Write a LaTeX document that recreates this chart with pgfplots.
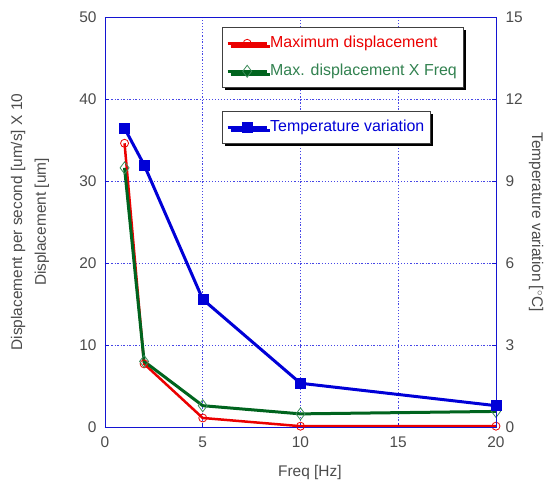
\documentclass[border=0pt]{standalone}
\usepackage{pgfplots}
\pgfplotsset{compat=1.18}
\usepackage{fontspec}
\setmainfont{Liberation Sans}
\usetikzlibrary{shadows}
\definecolor{mred}{RGB}{235,0,0}
\definecolor{mgreen}{RGB}{0,100,30}
\definecolor{mgreenmark}{RGB}{60,140,90}
\definecolor{mgreentext}{RGB}{50,130,80}
\definecolor{mblue}{RGB}{0,0,215}
\definecolor{axblue}{RGB}{20,20,210}
\definecolor{gridblue}{RGB}{70,70,230}
\definecolor{txtgray}{RGB}{75,75,75}

\pgfplotstableread{
x y
1 34.6
2 7.7
5 1.1
10 0.1
20 0.1
}\maxdisp
\pgfplotstableread{
x y
1 31.6
2 8.0
5 2.6
10 1.6
20 1.9
}\dispfreq
\pgfplotstableread{
x y
1 10.93
2 9.59
5 4.67
10 1.6
20 0.78
}\tempvar

\pgfplotsset{
  common/.style={
    scale only axis, width=391bp, height=410bp,
    xmin=0, xmax=20,
    axis line style={axblue, line width=0.8bp},
    tick style={axblue, line width=0.6bp},
    major tick length=4bp,
    tick align=inside,
    ticklabel style={txtgray, font=\fontsize{15.5}{18}\selectfont},
    label style={txtgray, font=\fontsize{15.5}{18}\selectfont},
    /pgf/number format/assume math mode=true,
    legend cell align=left,
    legend image code/.code={\draw[mark repeat=2,mark phase=2,##1] plot coordinates {(0bp,0bp) (19.5bp,0bp) (39bp,0bp)};},
  },
  mylegend/.style={
    fill=white, draw=black!75, line width=0.6bp,
    drop shadow={shadow xshift=3bp, shadow yshift=-3bp, fill=black, opacity=1},
    inner xsep=4bp, inner ysep=7bp,
    row sep=10bp,
    nodes={inner sep=2bp, text height=11bp, text depth=3bp, font=\fontsize{16}{18}\selectfont},
  },
}

\begin{document}
\begin{tikzpicture}
\begin{axis}[common, name=ax,
  ymin=0, ymax=50,
  xtick={0,5,10,15,20},
  ytick={0,10,20,30,40,50},
  ytick pos=left,
  xtick pos=bottom,
  yticklabel style={xshift=-5bp},
  xticklabel style={yshift=-6bp},
  grid=major,
  major grid style={gridblue, line width=0.6bp, dash pattern=on 1.5bp off 2bp on 0.6bp off 2bp},
  xlabel={Freq [Hz]},
  xlabel style={at={(axis description cs:0.524,-0.1098)}, anchor=center},
  ylabel={Displacement per second [um/s] X 10\\Displacement [um]},
  ylabel style={align=center, font=\fontsize{15.5}{24}\selectfont, at={(axis description cs:-0.1918,0.5)}, anchor=center},
  legend style={mylegend, at={(0.299,0.9756)}, anchor=north west},
]
\addplot[mred, line width=2.5bp, mark=o, mark size=4bp, mark options={line width=0.8bp, fill=none}] table[x=x,y=y] {\maxdisp};
\addlegendentry{\textcolor{mred}{Maximum displacement}}
\addplot[mgreen, line width=3bp, mark=diamond, mark size=6bp, mark options={mgreenmark, line width=0.8bp, fill=none}] table[x=x,y=y] {\dispfreq};
\addlegendentry{\textcolor{mgreentext}{Max. displacement X Freq}}
\end{axis}
\begin{axis}[common,
  ymin=0, ymax=15,
  axis x line=none,
  axis y line*=right,
  ytick={0,3,6,9,12,15},
  yticklabel style={xshift=6bp},
  ylabel={Temperature variation [$^{\circ}$C]},
  ylabel style={at={(axis description cs:1.1023,0.5)}, anchor=center, rotate=180},
  legend style={mylegend, at={(0.299,0.7707)}, anchor=north west},
]
\addplot[mblue, line width=3bp, mark=square*, mark size=5bp, mark options={line width=0.5bp}] table[x=x,y=y] {\tempvar};
\addlegendentry{\textcolor{mblue}{Temperature variation}}
\end{axis}
\pgfresetboundingbox
\useasboundingbox ([shift={(-105bp,-54bp)}]ax.south west) rectangle ([shift={(55bp,17bp)}]ax.north east);
\end{tikzpicture}
\end{document}
